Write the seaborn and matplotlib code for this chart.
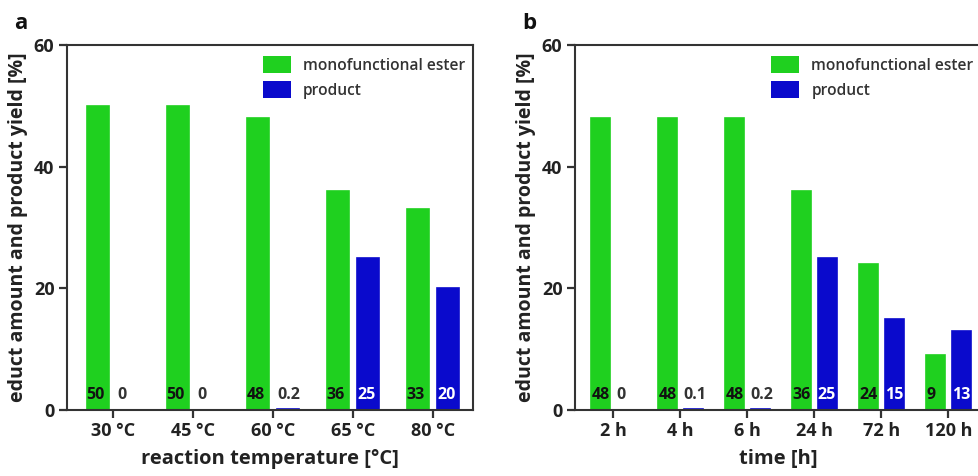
import matplotlib
matplotlib.use("Agg")
import matplotlib.pyplot as plt
import seaborn as sns
import pandas as pd

# ---- data ----
temps = ["30 °C", "45 °C", "60 °C", "65 °C", "80 °C"]
ester_a = [50, 50, 48, 36, 33]
product_a = [0, 0, 0.2, 25, 20]
label_ester_a = ["50", "50", "48", "36", "33"]
label_product_a = ["0", "0", "0.2", "25", "20"]

times = ["2 h", "4 h", "6 h", "24 h", "72 h", "120 h"]
ester_b = [48, 48, 48, 36, 24, 9]
product_b = [0, 0.1, 0.2, 25, 15, 13]
label_ester_b = ["48", "48", "48", "36", "24", "9"]
label_product_b = ["0", "0.1", "0.2", "25", "15", "13"]

series = ["monofunctional ester", "product"]
yticks = [0, 20, 40, 60]

GREEN = "#1fd01f"
BLUE = "#0a0acc"

sns.set_theme(style="white")
plt.rcParams['font.family'] = ['Open Sans', 'DejaVu Sans']
plt.rcParams.update({
    "xtick.bottom": True, "ytick.left": True,
    "xtick.major.size": 6, "ytick.major.size": 6,
    "xtick.major.width": 1.6, "ytick.major.width": 1.6,
    "xtick.color": "#333", "ytick.color": "#333",
    "xtick.direction": "out", "ytick.direction": "out",
})

fig = plt.figure(figsize=(9.79, 4.76), dpi=100)
ax_a = fig.add_axes([0.0684, 0.1387, 0.4147, 0.7668])
ax_b = fig.add_axes([0.5873, 0.1387, 0.4157, 0.7668])


def panel(ax, cats, ester, product, lab_e, lab_p, xlabel, letter):
    df = pd.DataFrame({
        "cat": cats * 2,
        "val": list(ester) + list(product),
        "series": [series[0]] * len(cats) + [series[1]] * len(cats),
    })
    sns.barplot(data=df, x="cat", y="val", hue="series", ax=ax,
                palette=[GREEN, BLUE], width=0.76, gap=0.26,
                saturation=1, errorbar=None, linewidth=0)
    for cont in ax.containers:
        for p in cont:
            p.set_edgecolor(p.get_facecolor())
            p.set_linewidth(1.2)
    ax.set_ylim(0, 60)
    ax.set_xlim(-0.575, len(cats) - 0.5)
    ax.set_yticks(yticks)
    ax.set_yticklabels([str(t) for t in yticks], fontsize=13,
                       fontweight="bold", color="#222")
    ax.set_xticks(range(len(cats)))
    ax.set_xticklabels(cats, fontsize=13, fontweight="bold", color="#222")
    ax.tick_params(axis="x", bottom=True, length=6, width=1.6,
                   color="#333", pad=3)
    ax.tick_params(axis="y", left=True, length=6, width=1.6,
                   color="#333", pad=3)
    ax.set_xlabel(xlabel, fontsize=14.5, fontweight="bold", color="#222",
                  labelpad=6)
    ax.set_ylabel("educt amount and product yield [%]", fontsize=14,
                  fontweight="bold", color="#222", labelpad=4)
    for s in ax.spines.values():
        s.set_visible(True)
        s.set_color("#333")
        s.set_linewidth(1.5)
    # labels at the bottom of bars
    ester_bars = ax.containers[0]
    prod_bars = ax.containers[1]
    for p, t in zip(ester_bars, lab_e):
        ax.text(p.get_x(), 2.4, t, ha="left", va="center", fontsize=11.5,
                fontweight="bold", color="#111")
    for p, t, v in zip(prod_bars, lab_p, product):
        col = "white" if v > 5 else "#333"
        ax.text(p.get_x(), 2.4, t, ha="left", va="center", fontsize=11.5,
                fontweight="bold", color=col)
    leg = ax.legend(loc="upper left", bbox_to_anchor=(0.455, 1.0),
                    frameon=False, fontsize=11.2, handlelength=1.8,
                    handleheight=1.3, handletextpad=0.8, labelspacing=0.5,
                    borderaxespad=0.3)
    for txt in leg.get_texts():
        txt.set_color("#333")
        txt.set_fontweight("semibold")
    ax.text(-0.13, 1.03, letter, transform=ax.transAxes, fontsize=16,
            fontweight="bold", color="#111", ha="left", va="bottom")


panel(ax_a, temps, ester_a, product_a, label_ester_a, label_product_a,
      "reaction temperature [°C]", "a")
panel(ax_b, times, ester_b, product_b, label_ester_b, label_product_b,
      "time [h]", "b")

fig.savefig("out.png", dpi=100)
